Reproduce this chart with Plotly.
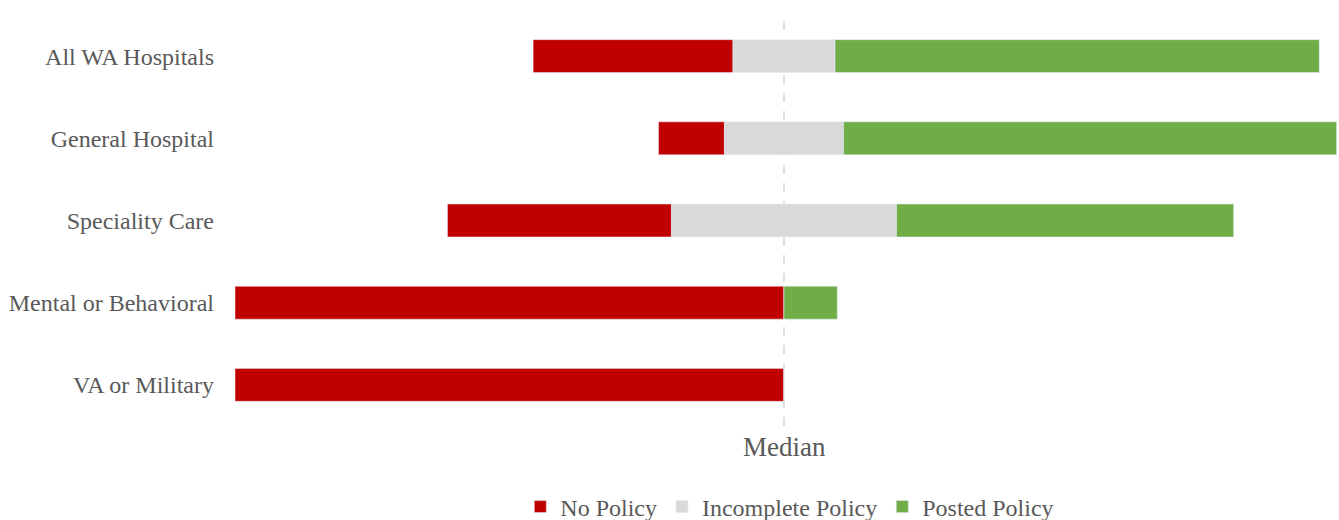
import plotly.graph_objects as go

categories = ["All WA Hospitals", "General Hospital", "Speciality Care", "Mental or Behavioral", "VA or Military"]
no_policy = [36.4, 12.0, 40.8, 100.0, 100.0]
incomplete = [18.6, 21.7, 41.0, 0.0, 0.0]
posted = [88.2, 89.8, 61.4, 9.7, 0.0]

red, grey, green = "#C00000", "#D9D9D9", "#70AD47"
font_fam = "'Times New Roman', 'Liberation Serif', 'DejaVu Serif', serif"
txt = "#595959"

half = [v / 2 for v in incomplete]
fig = go.Figure()
fig.add_trace(go.Bar(y=categories, x=no_policy, base=[-h - r for h, r in zip(half, no_policy)],
                     orientation="h", name="No Policy", marker_color=red, width=0.4))
fig.add_trace(go.Bar(y=categories, x=incomplete, base=[-h for h in half],
                     orientation="h", name="Incomplete Policy", marker_color=grey, width=0.4))
fig.add_trace(go.Bar(y=categories, x=posted, base=half,
                     orientation="h", name="Posted Policy", marker_color=green, width=0.4))

fig.add_shape(type="line", x0=0, x1=0, xref="x", y0=0, y1=1.005, yref="paper",
              line=dict(color="#BFBFBF", width=1, dash="dash"), layer="below")
fig.add_annotation(x=0, xref="x", y=-0.052, yref="paper", text="Median", showarrow=False,
                   yanchor="middle", font=dict(size=27, color=txt, family=font_fam))

fig.update_layout(
    width=1339, height=520,
    margin=dict(l=225, r=0, t=15, b=94),
    plot_bgcolor="white", paper_bgcolor="white",
    barmode="overlay",
    showlegend=True,
    legend=dict(orientation="h", x=0.507, xanchor="center", yref="container", y=0.025,
                yanchor="middle", font=dict(size=24, color=txt, family=font_fam),
                itemwidth=30, traceorder="normal"),
    font=dict(family=font_fam, color=txt),
)
fig.update_xaxes(range=[(225 - 784) / 5.49, (1339 - 784) / 5.49], visible=False, showgrid=False)
fig.update_yaxes(categoryorder="array", categoryarray=categories[::-1], showgrid=False,
                 ticks="", showline=False, automargin=False, ticklabelstandoff=10,
                 tickfont=dict(size=24, color=txt, family=font_fam))

fig.write_html("out.html")
